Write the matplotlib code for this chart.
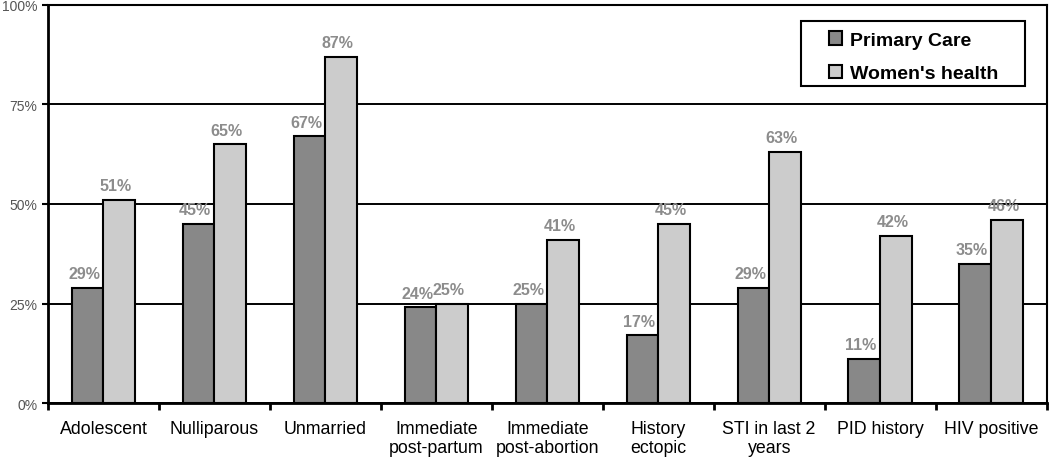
import numpy as np
import matplotlib.pyplot as plt
from matplotlib.patches import Rectangle
from matplotlib.ticker import FixedLocator, FuncFormatter

plt.rcParams['font.family'] = ['Liberation Sans', 'DejaVu Sans']

# data
categories = ['Adolescent', 'Nulliparous', 'Unmarried', 'Immediate\npost-partum',
              'Immediate\npost-abortion', 'History\nectopic', 'STI in last 2\nyears',
              'PID history', 'HIV positive']
primary_care = [29, 45, 67, 24, 25, 17, 29, 11, 35]
womens_health = [51, 65, 87, 25, 41, 45, 63, 42, 46]

fig = plt.figure(figsize=(10.5, 4.6), dpi=100)
ax = fig.add_axes([0.0457, 0.1217, 0.951, 0.8653])

x = np.arange(len(categories))
w = 0.285
ax.set_axisbelow(True)
ax.yaxis.grid(True, color='black', linewidth=1.4)
b1 = ax.bar(x - w / 2, primary_care, w, color='#888888', edgecolor='black',
            linewidth=1.5, label='Primary Care')
b2 = ax.bar(x + w / 2, womens_health, w, color='#cccccc', edgecolor='black',
            linewidth=1.5, label="Women's health")

for bars, vals in ((b1, primary_care), (b2, womens_health)):
    for b, v in zip(bars, vals):
        ax.text(b.get_x() + b.get_width() / 2 - 0.03, v + 1.7, f'{v}%',
                ha='center', va='bottom', fontsize=11.5, fontweight='bold',
                color='#8c8c8c')

ax.set_xlim(-0.5, len(categories) - 0.5)
ax.set_ylim(0, 100)
ax.set_yticks([0, 25, 50, 75, 100])
ax.yaxis.set_major_formatter(FuncFormatter(lambda v, p: f'{int(v)}%'))
ax.tick_params(axis='y', labelsize=10, labelcolor='#555555', length=4, width=1.5)

ax.set_xticks(x)
ax.set_xticklabels(categories, fontsize=12.8)
ax.tick_params(axis='x', which='major', length=0, pad=12)
ax.xaxis.set_minor_locator(FixedLocator(np.arange(len(categories) + 1) - 0.5))
ax.tick_params(axis='x', which='minor', length=5, width=2)

for s in ax.spines.values():
    s.set_linewidth(1.5)
ax.spines['left'].set_linewidth(2)
ax.spines['bottom'].set_linewidth(2)

# legend: entries without frame, box drawn separately
leg = ax.legend(loc='center left', bbox_to_anchor=(0.7818, 0.870), frameon=False,
                borderpad=0, borderaxespad=0, handlelength=0.7, handleheight=0.7,
                handletextpad=0.4, labelspacing=0.8,
                prop={'weight': 'bold', 'size': 14})
ax.add_patch(Rectangle((0.7538, 0.7965), 0.978 - 0.7538, 0.9598 - 0.7965,
                       transform=ax.transAxes, facecolor='white', edgecolor='black',
                       linewidth=1.5, zorder=4))
leg.set_zorder(5)

fig.savefig('out.png', dpi=100)
